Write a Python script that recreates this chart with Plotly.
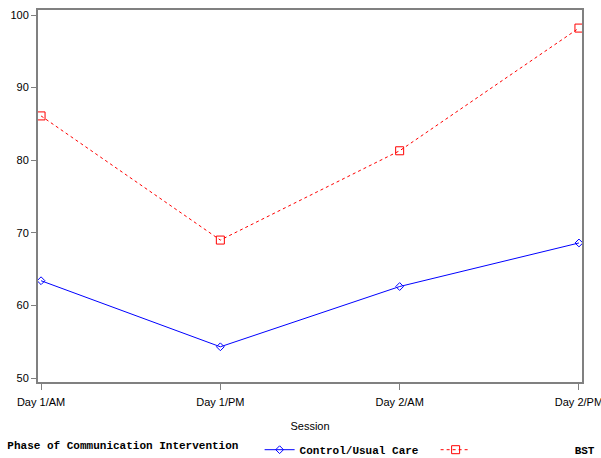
import plotly.graph_objects as go

sessions = ["Day 1/AM", "Day 1/PM", "Day 2/AM", "Day 2/PM"]
control = [63.4, 54.3, 62.6, 68.6]
bst = [86.1, 69.0, 81.3, 98.2]
y_ticks = [50, 60, 70, 80, 90, 100]

xs = list(range(len(sessions)))
fig = go.Figure()
fig.add_trace(go.Scatter(
    x=xs, y=control, name="Control/Usual Care", mode="lines+markers",
    line=dict(color="#0000ff", width=1),
    marker=dict(symbol="diamond-open", size=6, color="#0000ff", line=dict(width=1)),
))
fig.add_trace(go.Scatter(
    x=xs, y=bst, name="\u00a0" * 15 + "BST", mode="lines+markers",
    line=dict(color="#ff0000", width=1, dash="dot"),
    marker=dict(symbol="square-open", size=8, color="#ff0000", line=dict(width=1)),
))

axis_font = dict(family="Liberation Sans, Arial", size=11, color="#000000")
fig.update_layout(
    width=601, height=458,
    margin=dict(l=38, r=19, t=10, b=76, autoexpand=False),
    plot_bgcolor="white", paper_bgcolor="white",
    showlegend=True,
    legend=dict(
        orientation="h", x=-0.06, xanchor="left", y=-0.143, yanchor="top",
        valign="middle",
        title=dict(text="<b>Phase of Communication Intervention</b>\u00a0\u00a0",
                   font=dict(family="Liberation Mono, Courier New", size=11, color="#000000"),
                   side="left"),
        font=dict(family="Liberation Mono, Courier New", size=11, color="#000000", weight="bold"),
        entrywidth=131, entrywidthmode="pixels",
        tracegroupgap=0,
    ),
    xaxis=dict(
        range=[-0.017, 3.017], tickmode="array", tickvals=xs, ticktext=sessions,
        showgrid=False, zeroline=False, showline=True, linecolor="#808080", linewidth=2,
        mirror=True, ticks="outside", ticklen=6, tickcolor="#808080", tickwidth=1,
        tickfont=axis_font, automargin=False, ticklabeloverflow="allow",
        ticklabelstandoff=3,
        title=dict(text="Session", font=axis_font, standoff=15),
    ),
    yaxis=dict(
        range=[49.45, 100.69], tickmode="array", tickvals=y_ticks,
        showgrid=False, zeroline=False, showline=True, linecolor="#808080", linewidth=2,
        mirror=True, ticks="outside", ticklen=5, tickcolor="#808080", tickwidth=1,
        tickfont=axis_font, automargin=False, ticklabeloverflow="allow",
    ),
)

fig.write_html("out.html", config={"displayModeBar": False},
               post_script="document.body.style.margin='0';")
